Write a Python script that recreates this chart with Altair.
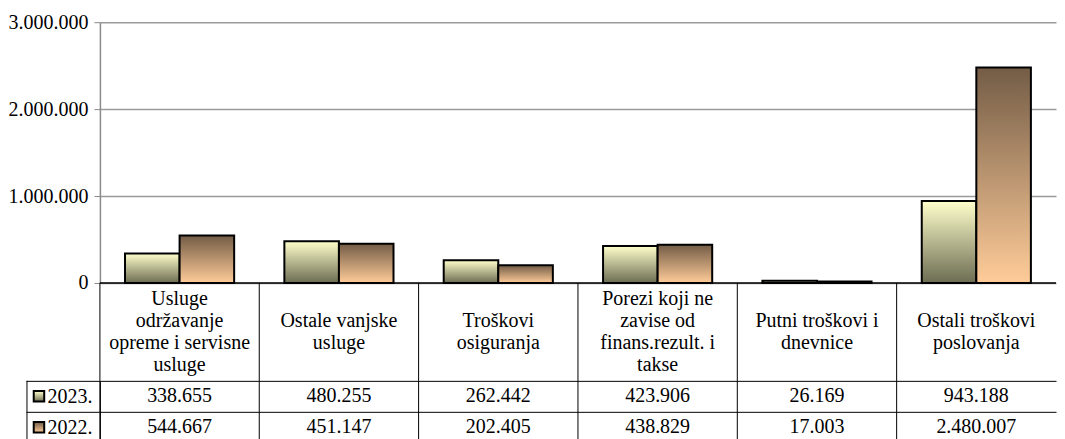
import altair as alt
import pandas as pd

categories = [
    "Usluge|održavanje|opreme i servisne|usluge",
    "Ostale vanjske|usluge",
    "Troškovi|osiguranja",
    "Porezi koji ne|zavise od|finans.rezult. i|takse",
    "Putni troškovi i|dnevnice",
    "Ostali troškovi|poslovanja",
]
series = ["2023.", "2022."]
values_2023 = [338655, 480255, 262442, 423906, 26169, 943188]
values_2022 = [544667, 451147, 202405, 438829, 17003, 2480007]
y_ticks = [0, 1000000, 2000000, 3000000]

FONT = "Times New Roman, Liberation Serif, DejaVu Serif, serif"
FS = 20
W = 957
H_CAT = 98
LINE_H = 22
ROW_H = 31

rows = []
for s, vals in zip(series, [values_2023, values_2022]):
    for c, v in zip(categories, vals):
        rows.append({"cat": c, "series": s, "value": v,
                     "label": f"{v:,}".replace(",", ".")})
df = pd.DataFrame(rows)
cat_df = pd.DataFrame({"cat": categories})
ser_df = pd.DataFrame({"series": series})

line_rows = []
for c in categories:
    parts = c.split("|")
    n = len(parts)
    for i, p in enumerate(parts):
        line_rows.append({"cat": c, "line": p, "off": i - (n - 1) / 2})
lines_df = pd.DataFrame(line_rows)


def grad(top, bottom):
    return alt.Gradient(
        gradient="linear",
        stops=[alt.GradientStop(color=top, offset=0),
               alt.GradientStop(color=bottom, offset=1)],
        x1=0, x2=0, y1=0, y2=1,
    )


grads = {"2023.": grad("#FFFFCC", "#6C6C52"), "2022.": grad("#735C46", "#FFCC99")}

band_scale = alt.Scale(paddingInner=0, paddingOuter=0)

# ---------- bar chart ----------
x_a = alt.X("cat:N", sort=categories, scale=band_scale, axis=None)
xoff = alt.XOffset("series:N", sort=series,
                   scale=alt.Scale(paddingInner=0, paddingOuter=0.46))
y_a = alt.Y(
    "value:Q",
    scale=alt.Scale(domain=[0, 3000000]),
    axis=alt.Axis(
        values=y_ticks, format=",d",
        labelExpr="replace(replace(datum.label, ',', '.'), ',', '.')",
        title=None, grid=True, gridColor="#9A9A9A", gridWidth=1.5,
        domainColor="#8A8A8A", domainWidth=1.5, tickColor="#8A8A8A",
        tickSize=6, labelPadding=6, labelFont=FONT, labelFontSize=FS,
        labelColor="black",
    ),
)

bar_layers = [
    alt.Chart(df).transform_filter(alt.datum.series == s)
    .mark_bar(fill=grads[s], stroke="black", strokeWidth=2)
    .encode(x=x_a, xOffset=xoff, y=y_a)
    for s in series
]
baseline = alt.Chart(pd.DataFrame({"value": [0]})).mark_rule(
    color="black", strokeWidth=1.5).encode(y=y_a)

chart_a = alt.layer(*bar_layers, baseline).properties(width=W, height=261)

# ---------- category label row ----------
x_b = alt.X("cat:N", sort=categories, scale=band_scale, axis=None)
x_edge = alt.X("cat:N", sort=categories, scale=band_scale, axis=None, bandPosition=0)
half = H_CAT / 2 / LINE_H

text_b = alt.Chart(lines_df).mark_text(
    font=FONT, fontSize=FS, baseline="middle", align="center", color="black",
).encode(
    x=x_b,
    y=alt.Y("off:Q", scale=alt.Scale(domain=[half, -half], nice=False, zero=False),
            axis=None),
    text="line:N",
)
rules_b = alt.Chart(cat_df).mark_rule(color="black", strokeWidth=1).encode(x=x_edge)
chart_b = alt.layer(rules_b, text_b).properties(width=W, height=H_CAT)

# ---------- data table rows ----------
y_c = alt.Y(
    "series:N", sort=series, scale=band_scale,
    axis=alt.Axis(
        title=None, tickBand="extent", grid=True, gridColor="black",
        gridWidth=1, tickColor="black", tickSize=74, domainColor="black",
        labelPadding=-66, labelAlign="right", labelFont=FONT,
        labelFontSize=FS, labelColor="black",
    ),
)
text_c = alt.Chart(df).mark_text(
    font=FONT, fontSize=FS, baseline="middle", align="center", color="black"
).encode(x=x_b, y=y_c, text="label:N")
rules_c = alt.Chart(cat_df).mark_rule(color="black", strokeWidth=1).encode(x=x_edge)
swatches = [
    alt.Chart(ser_df).transform_filter(alt.datum.series == s)
    .mark_point(shape="square", size=110, filled=True, fill=grads[s],
                stroke="black", strokeWidth=2, opacity=1)
    .encode(x=alt.value(-61), y=alt.Y("series:N", sort=series, scale=band_scale))
    for s in series
]
left_border = alt.Chart(pd.DataFrame({"a": [0]})).mark_rule(
    color="black", strokeWidth=1).encode(
    x=alt.value(-73), y=alt.value(0), y2=alt.value(2 * ROW_H))

chart_c = alt.layer(rules_c, left_border, *swatches, text_c).properties(
    width=W, height=2 * ROW_H)

chart = alt.vconcat(chart_a, chart_b, chart_c, spacing=0, bounds="flush").properties(
    padding={"left": 0, "top": 4, "right": 0, "bottom": 0}
).configure(font=FONT).configure_view(stroke=None)

chart.save("out.html", embed_options={"renderer": "svg", "actions": False})
